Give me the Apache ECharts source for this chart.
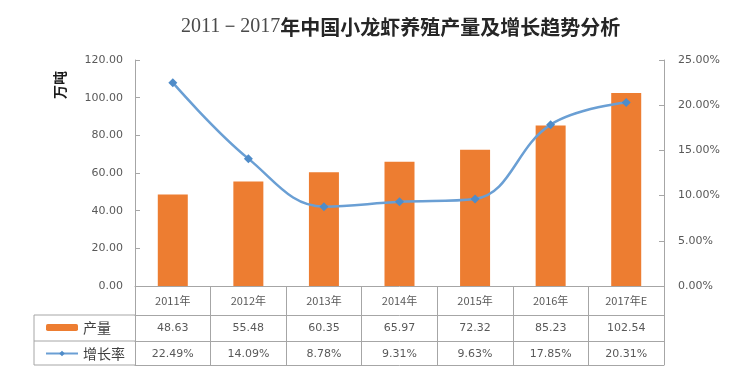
<!DOCTYPE html>
<html>
<head>
<meta charset="utf-8">
<script src="https://cdn.jsdelivr.net/npm/echarts@6/dist/echarts.min.js"></script>
<style>html,body{margin:0;padding:0;background:#fff}#c{width:734px;height:384px}</style>
</head>
<body>
<div id="c"></div>
<script>
const categories = ['2011年', '2012年', '2013年', '2014年', '2015年', '2016年', '2017年E'];
const output = [48.63, 55.48, 60.35, 65.97, 72.32, 85.23, 102.54];
const growth = [22.49, 14.09, 8.78, 9.31, 9.63, 17.85, 20.31];
const seriesNames = ['产量', '增长率'];
const titleNum = '2011－2017';
const titleText = '年中国小龙虾养殖产量及增长趋势分析';
const unitName = '万吨';

const gray = '#A6A6A6';
const labelColor = '#595959';
const chart = echarts.init(document.getElementById('c'), null, {renderer: 'canvas'});

function rowAxis(data, offset, showLabel) {
  return {
    type: 'category', data: data, gridIndex: 0, position: 'bottom', offset: offset,
    axisLine: {show: true, onZero: false, lineStyle: {color: gray, width: 1}},
    axisTick: {show: false},
    axisLabel: {show: showLabel, interval: 0, margin: 8, fontSize: 11, color: labelColor, fontFamily: 'DejaVu Sans'}
  };
}

chart.setOption({
  animation: false,
  title: {
    text: '{a|' + titleNum + '}{b|' + titleText + '}',
    left: 176, top: 12,
    textStyle: {
      fontWeight: 'normal',
      rich: {
        a: {fontFamily: 'Liberation Serif', fontSize: 20, fontWeight: 'normal', color: '#4a4a4a'},
        b: {fontFamily: 'Noto Sans CJK SC', fontSize: 20, fontWeight: 'bold', color: '#262626'}
      }
    }
  },
  grid: {left: 135, right: 70, top: 60, bottom: 98, containLabel: false},
  legend: {
    data: seriesNames, orient: 'vertical', left: 40, top: 315,
    itemWidth: 32, itemHeight: 7, itemGap: 11,
    textStyle: {fontSize: 14, color: '#404040', lineHeight: 15, fontFamily: 'Noto Sans CJK SC'}
  },
  xAxis: [
    {
      type: 'category', data: categories, gridIndex: 0, position: 'bottom',
      axisLine: {show: true, onZero: false, lineStyle: {color: gray, width: 1}},
      axisTick: {show: true, length: 79, lineStyle: {color: gray, width: 1}},
      axisLabel: {interval: 0, margin: 9, fontSize: 11, color: labelColor, fontFamily: 'Noto Sans CJK SC'}
    },
    rowAxis(output.map(v => v.toFixed(2)), 29, true),
    rowAxis(growth.map(v => v.toFixed(2) + '%'), 55, true),
    rowAxis(categories, 79, false)
  ],
  yAxis: [
    {
      type: 'value', min: 0, max: 120, interval: 20,
      axisLine: {show: true, lineStyle: {color: gray}},
      axisTick: {show: true, inside: true, length: 5, lineStyle: {color: gray}},
      splitLine: {show: false},
      axisLabel: {formatter: v => v.toFixed(2), margin: 12, fontSize: 11, color: labelColor, fontFamily: 'DejaVu Sans'}
    },
    {
      type: 'value', min: 0, max: 25, interval: 5, position: 'right',
      axisLine: {show: true, lineStyle: {color: gray}},
      axisTick: {show: true, inside: true, length: 5, lineStyle: {color: gray}},
      splitLine: {show: false},
      axisLabel: {formatter: v => v.toFixed(2) + '%', margin: 14, fontSize: 11, color: labelColor, fontFamily: 'DejaVu Sans'}
    }
  ],
  graphic: [
    {type: 'text', x: 60, y: 85, rotation: Math.PI / 2,
     style: {text: unitName, fontSize: 14, fontWeight: 'bold', fill: '#1a1a1a', fontFamily: 'Noto Sans CJK SC', align: 'center', verticalAlign: 'middle'}},
    {type: 'line', shape: {x1: 34, y1: 315, x2: 135, y2: 315}, style: {stroke: gray, lineWidth: 1}},
    {type: 'line', shape: {x1: 34, y1: 341, x2: 135, y2: 341}, style: {stroke: gray, lineWidth: 1}},
    {type: 'line', shape: {x1: 34, y1: 365, x2: 135, y2: 365}, style: {stroke: gray, lineWidth: 1}},
    {type: 'line', shape: {x1: 34, y1: 315, x2: 34, y2: 365}, style: {stroke: gray, lineWidth: 1}}
  ],
  series: [
    {
      name: seriesNames[0], type: 'bar', data: output, xAxisIndex: 0, yAxisIndex: 0,
      barWidth: 30, itemStyle: {color: '#ED7D31'}
    },
    {
      name: seriesNames[1], type: 'line', data: growth, xAxisIndex: 0, yAxisIndex: 1,
      smooth: 0.4, symbol: 'diamond', symbolSize: 9,
      lineStyle: {color: '#6A9FD4', width: 2.5},
      itemStyle: {color: '#4F8CC9'}
    }
  ]
});
</script>
</body>
</html>
